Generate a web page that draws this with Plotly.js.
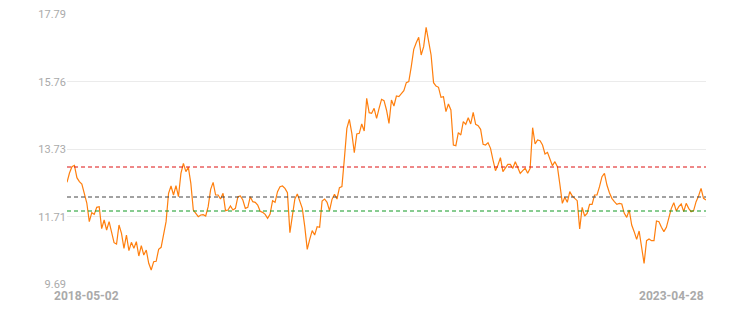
<!DOCTYPE html>
<html>
<head>
<meta charset="utf-8">
<script src="https://cdn.plot.ly/plotly-3.0.1.min.js"></script>
<style>html,body{margin:0;padding:0;background:#fff;}#chart{width:743px;height:331px;}</style>
</head>
<body>
<div id="chart"></div>
<script>
const dateLabels = ["2018-05-02", "2023-04-28"];
const yTicks = [9.69, 11.71, 13.73, 15.76, 17.79];
const levels = [13.20, 12.30, 11.88];
const levelColors = ["#dd1111", "#444444", "#119922"];
const values = [
12.74,13.02,13.21,13.25,12.88,12.76,12.69,12.42,12.12,11.56,11.83,11.78,11.99,12.01,11.35,11.61,11.31,11.56,11.24,10.93,
10.89,11.46,11.21,10.76,11.16,10.69,10.94,10.76,10.96,10.53,10.84,10.56,10.71,10.31,10.11,10.36,10.37,10.73,10.79,11.16,
11.56,12.41,12.63,12.36,12.64,12.31,13.01,13.31,13.06,13.19,12.71,11.91,11.81,11.71,11.76,11.77,11.73,12.01,12.53,12.74,
12.36,12.36,12.24,12.41,11.89,11.91,12.03,11.91,11.96,12.31,12.33,12.21,11.96,11.99,
12.31,12.16,12.14,12.06,11.87,11.84,11.78,11.66,11.79,12.19,12.14,12.46,12.61,12.63,12.56,12.43,11.23,11.81,12.24,12.39,
12.16,11.96,11.41,10.73,11.03,11.29,11.16,11.41,11.39,12.18,12.24,12.14,11.89,12.23,12.38,12.24,12.58,12.61,13.46,14.36,
14.63,14.21,13.63,14.19,14.21,14.49,14.28,15.26,14.83,14.81,14.96,14.66,14.96,15.23,15.19,14.91,14.51,15.21,15.03,15.33,
15.31,15.39,15.49,15.73,15.76,16.21,16.73,16.93,17.09,16.56,16.81,17.39,17.01,16.56,15.73,15.63,15.59,15.29,15.31,14.86,
15.09,14.91,13.86,13.84,14.23,14.16,14.56,14.48,14.68,14.49,14.84,14.48,14.44,14.33,13.88,13.86,13.93,13.76,
13.41,13.09,13.26,13.48,13.06,13.16,13.28,13.28,13.16,13.36,13.16,13.01,13.09,13.16,13.01,13.16,14.38,13.89,14.01,13.99,
13.86,13.59,13.64,13.41,13.24,13.36,13.21,12.68,12.11,12.29,12.14,12.46,12.33,12.26,12.19,11.34,11.99,11.73,11.81,12.08,
12.08,12.36,12.36,12.61,12.91,13.01,12.66,12.43,12.26,12.16,12.08,12.11,12.09,11.81,11.69,11.91,11.46,11.26,11.03,11.28,
10.76,10.31,10.99,11.04,10.99,10.99,11.58,11.56,11.39,11.26,11.39,11.68,11.96,12.13,11.88,12.01,12.09,11.86,12.11,11.96,
11.86,11.89,12.16,12.33,12.56,12.26,12.21
];
const xs = values.map((_, i) => i);

const shapes = levels.map((lv, i) => ({
  type: 'line', xref: 'paper', x0: 0, x1: 1, yref: 'y', y0: lv, y1: lv,
  line: {color: levelColors[i], width: 1, dash: '4px,3px'}
}));

const trace = {
  x: xs, y: values, type: 'scatter', mode: 'lines',
  line: {color: '#ff7f0e', width: 1.2},
  hoverinfo: 'skip'
};

const layout = {
  width: 743, height: 331,
  margin: {l: 67, r: 37, t: 14, b: 47},
  paper_bgcolor: '#fff', plot_bgcolor: '#fff',
  showlegend: false,
  font: {family: 'Roboto, "Noto Sans", sans-serif', color: '#aaaaaa', size: 11},
  xaxis: {range: [0, values.length - 1], showgrid: false, zeroline: false, showticklabels: false, showline: false, ticks: ''},
  yaxis: {range: [9.69, 17.79], tickvals: yTicks, ticktext: yTicks.map(v => v.toFixed(2)),
          showgrid: true, gridcolor: '#ebebeb', gridwidth: 1, zeroline: false, showline: false, ticks: '',
          tickfont: {size: 11, color: '#aaaaaa'}},
  shapes: shapes,
  annotations: [
    {xref: 'paper', yref: 'paper', x: -0.023, y: -0.044, xanchor: 'left', yanchor: 'middle', showarrow: false,
     text: '<b>' + dateLabels[0] + '</b>', font: {size: 12, color: '#aaaaaa'}},
    {xref: 'paper', yref: 'paper', x: 1, y: -0.044, xanchor: 'right', yanchor: 'middle', showarrow: false,
     text: '<b>' + dateLabels[1] + '</b>', font: {size: 12, color: '#aaaaaa'}}
  ]
};

Plotly.newPlot('chart', [trace], layout, {displayModeBar: false, staticPlot: true});
</script>
</body>
</html>
